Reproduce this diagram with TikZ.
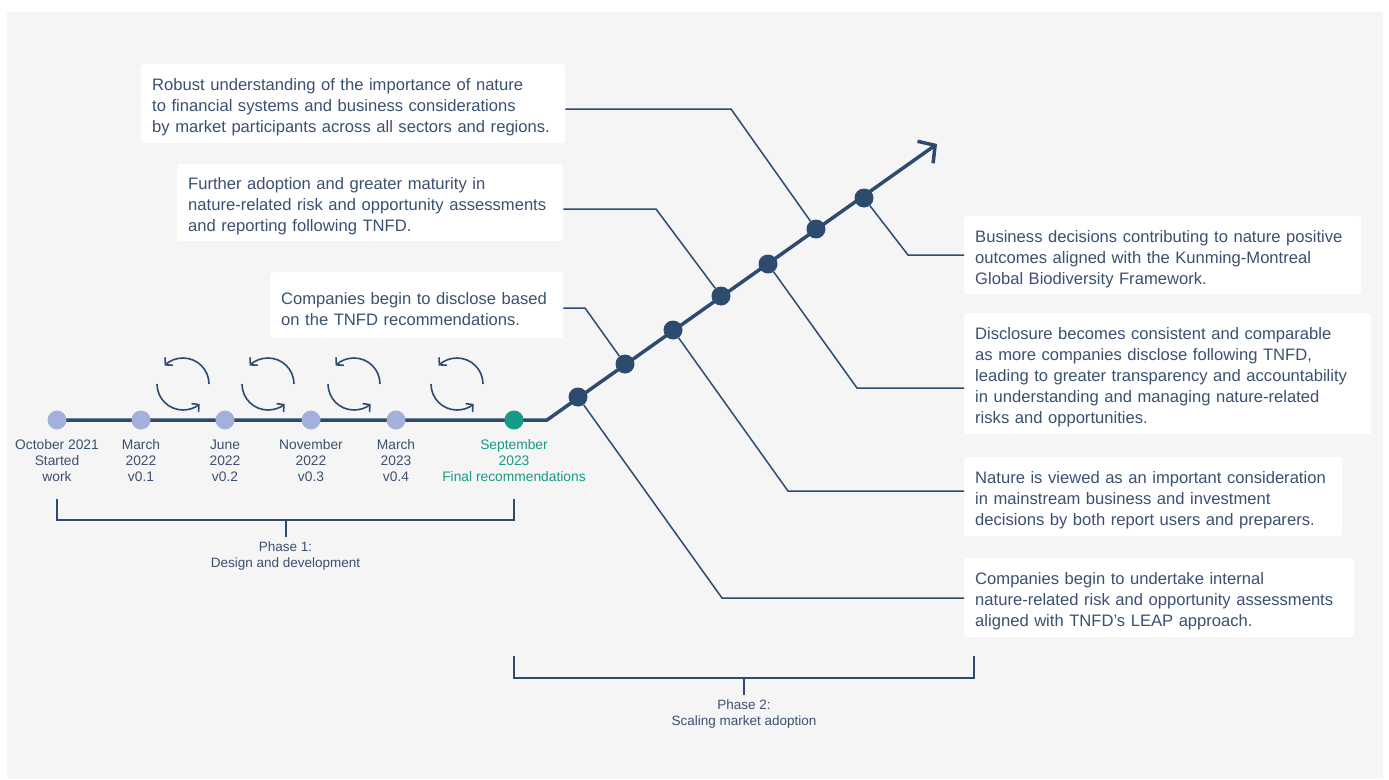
\documentclass[tikz,border=0pt]{standalone}
\usepackage{fontspec}
\setmainfont{Liberation Sans}
\usetikzlibrary{arrows.meta,positioning}

\definecolor{navy}{HTML}{2D4B6F}
\definecolor{inktext}{HTML}{3B5170}
\definecolor{lilac}{HTML}{A4B0DC}
\definecolor{teal}{HTML}{159A85}
\definecolor{panel}{HTML}{F5F5F5}

\tikzset{
  note/.style={fill=white, rounded corners=3pt, anchor=north west, align=left,
    inner xsep=11pt, inner ysep=0pt, text=inktext, font=\fontsize{16.6}{21}\selectfont,
    execute at begin node={\rule{0pt}{19.5pt}}},
  milestone/.style={circle, fill=lilac, minimum size=19pt, inner sep=0pt},
  stagedot/.style={circle, fill=navy, minimum size=19pt, inner sep=0pt},
  datelabel/.style={align=center, inner sep=0pt, text=inktext, font=\fontsize{13.8}{16}\selectfont},
  phaselabel/.style={align=center, inner sep=0pt, text=inktext, font=\fontsize{13.5}{15.5}\selectfont},
  leader/.style={navy, line width=1.5pt},
  phasebracket/.style={navy, line width=2pt},
  iterarrow/.style={navy, line width=1.6pt, -{Straight Barb[length=5pt,width=11pt]}},
}

\begin{document}
\begin{tikzpicture}[x=1pt, y=-1pt]
    \useasboundingbox (0,0) rectangle (1389,779);
    \fill[white] (0,0) rectangle (1389,779);
    \fill[panel] (7,12) rectangle (1383,779);

    % Timeline axis with the upward arrow
    \coordinate (start) at (57,420);
    \coordinate (bend) at (547,420);
    \coordinate (tip) at (937,144);
    \draw[navy, line width=3.5pt, -{Straight Barb[length=12pt,width=27pt]}] (start) -- (bend) -- (tip);

    % Iteration loops between the drafts
    \foreach \cx in {183,268,354,457} {
        \draw[iterarrow] ([shift={(0:26pt)}]\cx,384) arc[start angle=0, end angle=135, radius=26pt];
        \draw[iterarrow] ([shift={(180:26pt)}]\cx,384) arc[start angle=180, end angle=310, radius=26pt];
    }

    % Phase 1 milestones
    \foreach \x/\txt [count=\i] in {57/{October 2021\\Started\\work}, 141/{March\\2022\\v0.1},
        225/{June\\2022\\v0.2}, 311/{November\\2022\\v0.3}, 396/{March\\2023\\v0.4}} {
        \node[milestone] (m\i) at (\x,420) {};
        \node[datelabel, below=10pt of m\i] (lab\i) {\txt};
    }
    \node[milestone, fill=teal] (final) at (514,420) {};
    \node[datelabel, text=teal, below=10pt of final] (labfinal) {September\\2023\\Final recommendations};

    % Phase 1 bracket
    \draw[phasebracket] (57,499) |- (514,520) -- (514,499);
    \draw[phasebracket] (285.5,520) -- (285.5,537) coordinate (ph1);
    \node[phaselabel, below=5pt of ph1] (phase1) {Phase 1:\\Design and development};

    % Phase 2 bracket
    \draw[phasebracket] (514,656) |- (974,678) -- (974,656);
    \draw[phasebracket] (744,678) -- (744,695) coordinate (ph2);
    \node[phaselabel, below=5pt of ph2] (phase2) {Phase 2:\\Scaling market adoption};

    % Outcome boxes, left side
    \node[note, text width=402pt, minimum height=79pt] (understand) at (141,64)
        {Robust understanding of the importance of nature\\to financial systems and business considerations\\by market participants across all sectors and regions.};
    \node[note, text width=364pt, minimum height=77pt] (maturity) at (177,164)
        {Further adoption and greater maturity in\\nature-related risk and opportunity assessments\\and reporting following TNFD.};
    \node[note, text width=271pt, minimum height=66pt] (disclose) at (270,272)
        {Companies begin to disclose based\\on the TNFD recommendations.};

    % Outcome boxes, right side
    \node[note, text width=375pt, minimum height=78pt] (positive) at (964,216)
        {Business decisions contributing to nature positive\\outcomes aligned with the Kunming-Montreal\\Global Biodiversity Framework.};
    \node[note, text width=385pt, minimum height=121pt] (consistent) at (964,313)
        {Disclosure becomes consistent and comparable\\as more companies disclose following TNFD,\\leading to greater transparency and accountability\\in understanding and managing nature-related\\risks and opportunities.};
    \node[note, text width=356pt, minimum height=79pt] (mainstream) at (964,457)
        {Nature is viewed as an important consideration\\in mainstream business and investment\\decisions by both report users and preparers.};
    \node[note, text width=368pt, minimum height=79pt] (internal) at (964,558)
        {Companies begin to undertake internal\\nature-related risk and opportunity assessments\\aligned with TNFD's LEAP approach.};

    % Phase 2 stages on the rising line
    \foreach \x/\y [count=\i] in {578/397, 625/364, 673/330, 721/296, 768/264, 816/229, 864/198} {
        \node[stagedot] (d\i) at (\x,\y) {};
    }

    % Leader lines from stages to boxes
    \coordinate (k1) at (722,598);
    \coordinate (k2) at (585,308);
    \coordinate (k3) at (788,491);
    \coordinate (k4) at (656,209);
    \coordinate (k5) at (857,388);
    \coordinate (k6) at (731,109);
    \coordinate (k7) at (908,255);
    \draw[leader] (d1) -- (k1) -- (k1 -| internal.west);
    \draw[leader] (d2) -- (k2) -- (k2 -| disclose.east);
    \draw[leader] (d3) -- (k3) -- (k3 -| mainstream.west);
    \draw[leader] (d4) -- (k4) -- (k4 -| maturity.east);
    \draw[leader] (d5) -- (k5) -- (k5 -| consistent.west);
    \draw[leader] (d6) -- (k6) -- (k6 -| understand.east);
    \draw[leader] (d7) -- (k7) -- (k7 -| positive.west);
\end{tikzpicture}
\end{document}
